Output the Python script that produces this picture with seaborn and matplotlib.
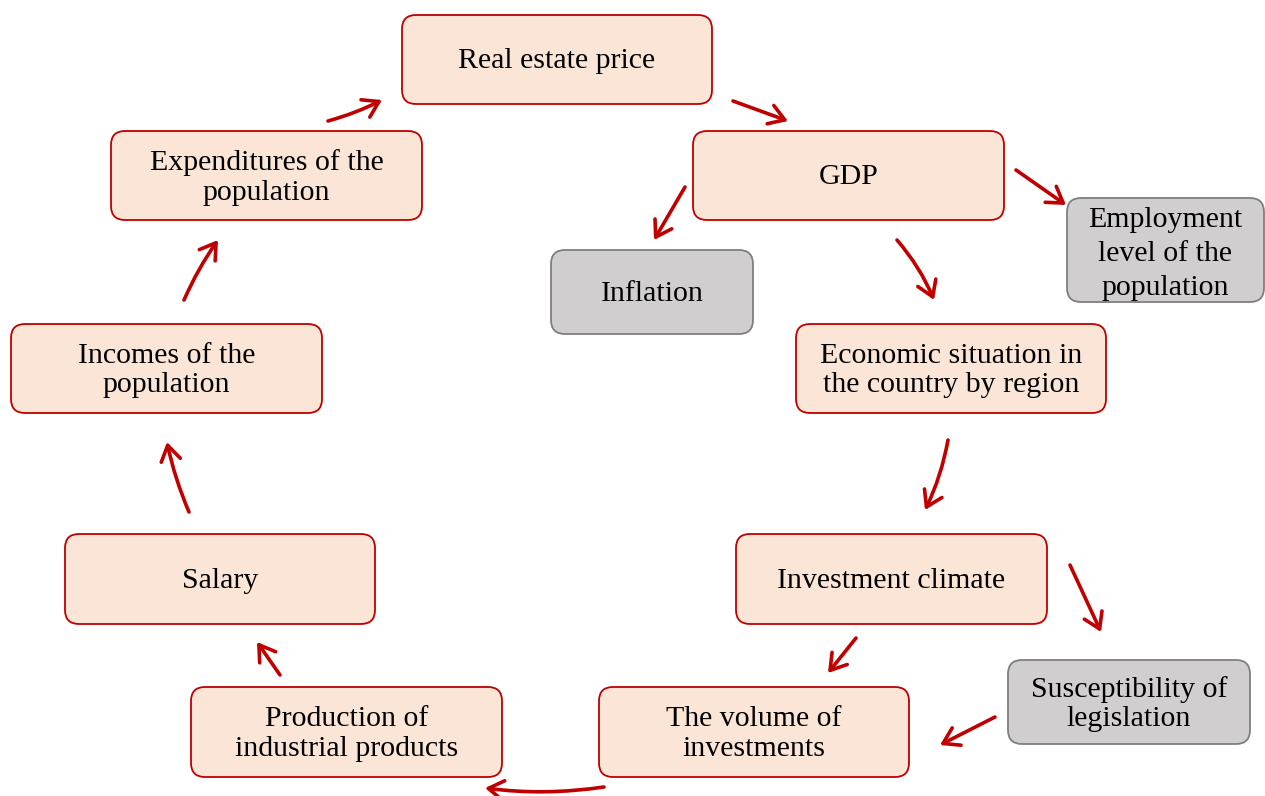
import matplotlib.pyplot as plt
import seaborn as sns
from matplotlib.patches import FancyBboxPatch, FancyArrowPatch

# node labels of the diagram
labels = ["Real estate price", "GDP", "Employment\nlevel of the\npopulation", "Inflation",
          "Economic situation in\nthe country by region", "Investment climate",
          "Susceptibility of\nlegislation", "The volume of\ninvestments",
          "Production of\nindustrial products", "Salary", "Incomes of the\npopulation",
          "Expenditures of the\npopulation"]
# main chain (1) or side factor (0)
kind = [1, 1, 0, 0, 1, 1, 0, 1, 1, 1, 1, 1]
# links between nodes (from, to)
links = [(11, 0), (0, 1), (1, 2), (1, 3), (1, 4), (4, 5), (5, 6), (5, 7), (6, 7),
         (7, 8), (8, 9), (9, 10), (10, 11)]

# box extents in pixels: x0, y0, x1, y1
boxes = [(402, 15, 712, 104), (693, 131, 1004, 220), (1067, 198, 1264, 302),
         (551, 250, 753, 334), (796, 324, 1106, 413), (736, 534, 1047, 624),
         (1008, 660, 1250, 744), (599, 687, 909, 777), (191, 687, 502, 777),
         (65, 534, 375, 624), (11, 324, 322, 413), (111, 131, 422, 220)]
# arrow start, end and bend
arrows = [((328, 121), (382, 100), 0.05), ((733, 101), (788, 121), 0.0),
          ((1016, 170), (1066, 205), 0.0), ((685, 187), (654, 240), 0.0),
          ((897, 240), (934, 300), -0.08), ((948, 440), (925, 510), -0.07),
          ((1070, 565), (1101, 632), 0.0), ((856, 638), (828, 673), 0.0),
          ((995, 717), (940, 745), 0.0), ((604, 787), (485, 788), -0.07),
          ((280, 675), (257, 642), 0.0), ((189, 512), (167, 442), -0.05),
          ((184, 300), (218, 240), -0.05)]

sns.set_theme(style="white")
plt.rcParams['font.family'] = ['Liberation Serif', 'DejaVu Serif']

fig = plt.figure(figsize=(12.65, 7.96), dpi=100)
ax = fig.add_axes([0, 0, 1, 1])
ax.set_xlim(0, 1265)
ax.set_ylim(796, 0)
ax.axis('off')

red = '#C00000'
for lab, k, (x0, y0, x1, y1) in zip(labels, kind, boxes):
    fc = '#FBE5D6' if k else '#D0CECE'
    ec = red if k else '#7F7F7F'
    ax.add_patch(FancyBboxPatch((x0, y0), x1 - x0, y1 - y0,
                                boxstyle="round,pad=0,rounding_size=14",
                                fc=fc, ec=ec, lw=1.3))
    three = lab.count('\n') == 2
    ls = 1.4 if three else 1.18
    dy = 4 if three else 2
    ax.text((x0 + x1) / 2, (y0 + y1) / 2 + dy, lab, ha='center', va='center',
            fontsize=21.5, color='black', linespacing=ls)

for (a, b), (p0, p1, rad) in zip(links, arrows):
    ax.add_patch(FancyArrowPatch(p0, p1, arrowstyle="->,head_length=0.55,head_width=0.35",
                                 connectionstyle=f"arc3,rad={rad}", mutation_scale=20,
                                 color=red, lw=2.6, shrinkA=0, shrinkB=0))

fig.savefig('out.png', dpi=100)
